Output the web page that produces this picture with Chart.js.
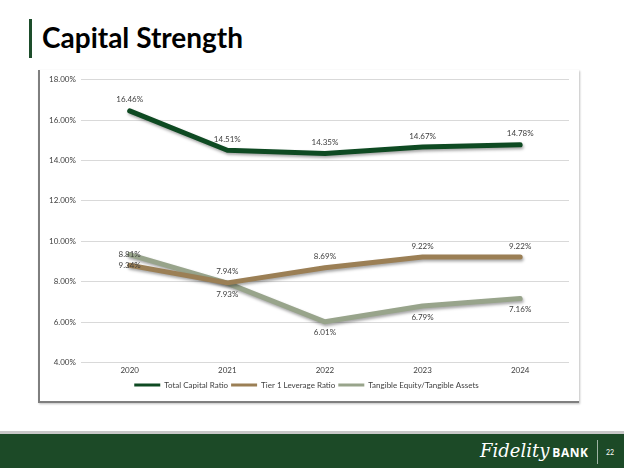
<!DOCTYPE html>
<html>
<head>
<meta charset="utf-8">
<script src="https://cdn.jsdelivr.net/npm/chart.js@4.4.0/dist/chart.umd.min.js"></script>
<style>
  body { margin: 0; width: 624px; height: 468px; background: #fff; position: relative; overflow: hidden; font-family: Lato, "Open Sans", sans-serif; }
  .title-bar { position: absolute; left: 29px; top: 19px; width: 3px; height: 39px; background: #1d4d2b; }
  .title { position: absolute; left: 42px; top: 20px; font-size: 28px; font-weight: bold; color: #000; }
  .box { position: absolute; left: 38px; top: 70px; width: 539px; height: 331px; border-left: 2px solid #7f7f7f; border-bottom: 2px solid #7f7f7f; box-shadow: 1px 1px 2px rgba(0,0,0,0.25); background: #fff; }
  .footer-line { position: absolute; left: 0; top: 431px; width: 624px; height: 3px; background: #c8c8c8; }
  .footer { position: absolute; left: 0; top: 434px; width: 624px; height: 34px; background: #1c4a27; }
  .logo { position: absolute; left: 480px; top: 440px; color: #fff; font-family: "DejaVu Serif", serif; font-style: italic; font-size: 18px; }
  .logo span { font-family: "Open Sans", sans-serif; font-style: normal; font-weight: bold; font-size: 12px; letter-spacing: 0.5px; margin-left: 3px; }
  .sep { position: absolute; left: 597px; top: 440px; width: 1px; height: 24px; background: #9fb3a4; }
  .page { position: absolute; left: 606px; top: 448px; color: #fff; font-size: 7px; }
</style>
</head>
<body>
<div class="title-bar"></div>
<div class="title">Capital Strength</div>
<div class="box"><canvas id="capitalChart" width="537" height="329"></canvas></div>
<div class="footer-line"></div>
<div class="footer"></div>
<div class="logo">Fidelity<span>BANK</span></div>
<div class="sep"></div>
<div class="page">22</div>
<script>
// data
const years = ['2020', '2021', '2022', '2023', '2024'];
const totalCapital = [16.46, 14.51, 14.35, 14.67, 14.78];
const tier1Leverage = [8.81, 7.94, 8.69, 9.22, 9.22];
const tangibleEquity = [9.34, 7.93, 6.01, 6.79, 7.16];
const yTicks = [4, 6, 8, 10, 12, 14, 16, 18];

// label placement: -1 above the point, 1 below
const labelSide = [-1, -1, 1];

const shadowPlugin = {
    id: 'lineShadow',
    beforeDatasetDraw(chart) {
        const ctx = chart.ctx;
        ctx.save();
        ctx.shadowColor = 'rgba(0,0,0,0.35)';
        ctx.shadowBlur = 3;
        ctx.shadowOffsetX = 1;
        ctx.shadowOffsetY = 2;
    },
    afterDatasetDraw(chart) {
        chart.ctx.restore();
    }
};

const valueLabels = {
    id: 'valueLabels',
    afterDatasetsDraw(chart) {
        const ctx = chart.ctx;
        ctx.save();
        ctx.font = '8px Lato, "Open Sans", sans-serif';
        ctx.fillStyle = '#404040';
        ctx.textAlign = 'center';
        ctx.textBaseline = 'middle';
        chart.data.datasets.forEach((ds, i) => {
            const meta = chart.getDatasetMeta(i);
            meta.data.forEach((pt, j) => {
                const y = pt.y + labelSide[i] * 11;
                ctx.fillText(ds.data[j].toFixed(2) + '%', pt.x, y);
            });
        });
        ctx.restore();
    }
};

const ctx = document.getElementById('capitalChart').getContext('2d');
new Chart(ctx, {
    type: 'line',
    data: {
        labels: years,
        datasets: [{
            label: 'Total Capital Ratio',
            data: totalCapital,
            borderColor: '#0e4a22',
            backgroundColor: '#0e4a22',
            borderWidth: 5
        }, {
            label: 'Tier 1 Leverage Ratio',
            data: tier1Leverage,
            borderColor: '#9b7f55',
            backgroundColor: '#9b7f55',
            borderWidth: 5
        }, {
            label: 'Tangible Equity/Tangible Assets',
            data: tangibleEquity,
            borderColor: '#98a48b',
            backgroundColor: '#98a48b',
            borderWidth: 5
        }]
    },
    plugins: [shadowPlugin, valueLabels],
    options: {
        responsive: false,
        animation: false,
        elements: {
            point: { radius: 0 },
            line: { tension: 0, borderCapStyle: 'round', borderJoinStyle: 'round' }
        },
        layout: { padding: { left: 4, right: 8, top: 4, bottom: 0 } },
        scales: {
            x: {
                offset: true,
                grid: { display: false, drawTicks: false },
                border: { display: false },
                ticks: { color: '#404040', font: { size: 8, family: 'Lato' }, padding: 3 }
            },
            y: {
                min: 4,
                max: 18,
                afterBuildTicks(axis) {
                    axis.ticks = yTicks.map(v => ({ value: v }));
                },
                grid: { color: '#d9d9d9', drawTicks: false },
                border: { display: false },
                ticks: {
                    color: '#404040',
                    font: { size: 8, family: 'Lato' },
                    padding: 5,
                    callback: v => v.toFixed(2) + '%'
                }
            }
        },
        plugins: {
            legend: {
                position: 'bottom',
                labels: {
                    boxWidth: 26,
                    boxHeight: 3,
                    padding: 3,
                    color: '#404040',
                    font: { size: 8, family: 'Lato' },
                    generateLabels(chart) {
                        return Chart.defaults.plugins.legend.labels.generateLabels(chart).map(item => {
                            item.lineWidth = 0;
                            item.strokeStyle = 'transparent';
                            return item;
                        });
                    }
                }
            },
            tooltip: { enabled: false }
        }
    }
});
</script>
</body>
</html>
